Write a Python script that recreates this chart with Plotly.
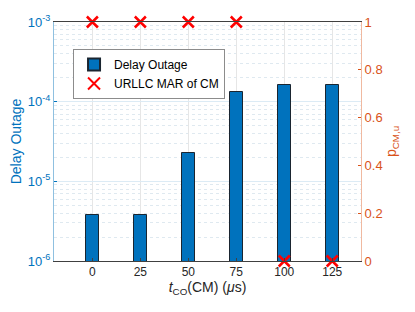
import plotly.graph_objects as go

t_co = [0, 25, 50, 75, 100, 125]
delay_outage = [3.8e-6, 3.8e-6, 2.26e-5, 1.31e-4, 1.62e-4, 1.62e-4]
urllc_mar = [1, 1, 1, 1, 0, 0]
x_ticks = [0, 25, 50, 75, 100, 125]
y_left_ticks = [1e-6, 1e-5, 1e-4, 1e-3]
y_left_labels = ["10<sup>-6</sup>", "10<sup>-5</sup>", "10<sup>-4</sup>", "10<sup>-3</sup>"]
y_right_ticks = [0, 0.2, 0.4, 0.6, 0.8, 1]
y_right_labels = ["0", "0.2", "0.4", "0.6", "0.8", "1"]

BLUE = "#0072BD"
ORANGE = "#D95319"
FONT = "Liberation Sans, Arial, sans-serif"

minor_vals = [m * 10.0 ** e for e in range(-6, -3) for m in range(2, 10)]

fig = go.Figure()
fig.add_trace(go.Bar(
    x=t_co, y=delay_outage, width=7, name="Delay Outage",
    marker=dict(color=BLUE, line=dict(color="#1a2530", width=1)),
))
fig.add_trace(go.Scatter(
    x=t_co, y=urllc_mar, mode="markers", name="URLLC MAR of CM", yaxis="y2",
    marker=dict(symbol="x-thin", size=11, color="#FF0000",
                line=dict(color="#FF0000", width=2.5)),
    cliponaxis=False,
))

# the page body adds an 8px offset; figure sized so plot area lands at 54..361 x 22..261
fig.update_layout(
    width=407, height=304,
    margin=dict(l=46, r=54, t=14, b=51),
    paper_bgcolor="white", plot_bgcolor="white",
    font=dict(family=FONT, size=12, color="#262626"),
    bargap=0,
    showlegend=True,
    legend=dict(x=0.062, y=0.887, xanchor="left", yanchor="top",
                bgcolor="white", bordercolor="#8c8c8c", borderwidth=1,
                font=dict(size=12, color="#000000"),
                itemsizing="constant", tracegroupgap=0, itemwidth=30),
    xaxis=dict(
        range=[-20, 140], tickvals=x_ticks, ticktext=[str(v) for v in x_ticks],
        showgrid=True, gridcolor="#e6e6e6", gridwidth=1,
        showline=True, linecolor="#404040", linewidth=1, mirror=True,
        ticks="inside", ticklen=3, tickcolor="#404040",
        tickfont=dict(size=12, color="#262626"),
        title=dict(text="<i>t</i><sub>CO</sub>(CM) (<i>μ</i>s)",
                   font=dict(size=14, color="#262626"), standoff=2),
        zeroline=False, automargin=False,
    ),
    yaxis=dict(
        type="log", range=[-6, -3],
        tickvals=y_left_ticks, ticktext=y_left_labels,
        showgrid=True, gridcolor="#dcebf5", gridwidth=1,
        minor=dict(tickvals=minor_vals, showgrid=True, gridcolor="#dfe9f0",
                   griddash="dot", ticks=""),
        showline=True, linecolor="#8fc0e0", linewidth=1,
        ticks="inside", ticklen=3, tickcolor=BLUE,
        tickfont=dict(size=13, color=BLUE),
        title=dict(text="Delay Outage", font=dict(size=14, color=BLUE), standoff=2),
        zeroline=False, automargin=False,
    ),
    yaxis2=dict(
        overlaying="y", side="right", range=[0, 1],
        tickvals=y_right_ticks, ticktext=y_right_labels,
        showgrid=False, showline=True, linecolor="#f0b9a0", linewidth=1,
        ticks="inside", ticklen=3, tickcolor=ORANGE,
        tickfont=dict(size=13, color=ORANGE),
        title=dict(text="p<sub>CM,u</sub>", font=dict(size=14, color=ORANGE), standoff=4),
        zeroline=False, automargin=False,
    ),
)

fig.write_html("out.html")
